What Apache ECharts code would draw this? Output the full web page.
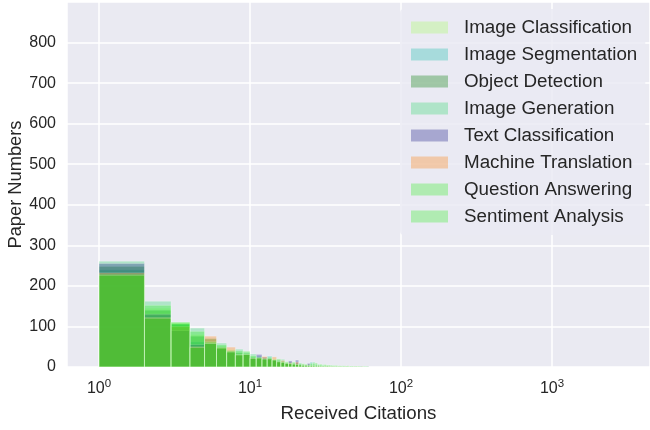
<!DOCTYPE html>
<html><head><meta charset="utf-8">
<script src="https://cdn.jsdelivr.net/npm/echarts@6/dist/echarts.min.js"></script>
<style>html,body{margin:0;padding:0;background:#fff}#chart{width:650px;height:430px}</style>
</head><body><div id="chart"></div>
<script>
// Histogram: bin k covers citations [k, k+1)
const firstBin = 1;
const seriesNames = ['Image Classification','Image Segmentation','Object Detection','Image Generation','Text Classification','Machine Translation','Question Answering','Sentiment Analysis'];
const seriesColors = ['rgba(161,254,89,0.3)','rgba(14,187,169,0.3)','rgba(0,120,0,0.32)','rgba(41,214,102,0.3)','rgba(14,14,129,0.3)','rgba(254,121,0,0.3)','rgba(44,240,25,0.3)','rgba(44,240,30,0.3)'];
const imageClassification = [236,145,107,80,66,51,43,33,32,25, 23,21,22,21,14,12,11,9,8,8, 6,5,4,4,3,5,3,3,2,2, 3,2,2,1,2,1,1,1,1,1, 1,0,1,1,0,1,0,1,0,0, 1,0,0,1,0,0,0,1,0,0];
const imageSegmentation   = [240,125,105,62,59,49,38,31,31,23, 27,19,27,17,13,12,9,8,7,6, 6,5,4,3,12,3,3,2,3,2, 2,2,1,2,1,1,2,1,1,1, 1,1,0,0,1,0,1,0,0,1, 0,0,1,0,0,0,1,0,0,0];
const objectDetection     = [248,140,106,76,70,50,41,35,33,24, 25,22,21,19,15,14,10,12,8,9, 7,6,5,7,4,4,4,4,3,3, 2,3,2,2,2,2,1,2,1,1, 1,2,1,1,1,0,1,1,0,1, 0,1,0,0,1,0,0,0,1,0];
const imageGeneration     = [261,162,106,96,60,59,39,44,36,32, 22,20,25,18,17,19,10,8,10,7, 10,5,7,4,6,12,6,7,5,6, 4,5,3,5,3,4,2,3,2,3, 2,3,2,1,2,2,1,2,1,1, 2,1,1,1,0,1,1,0,1,0];
const textClassification  = [255,130,90,55,58,46,37,30,31,22, 31,24,21,17,13,11,9,15,7,17, 6,4,4,9,3,3,3,2,2,2, 2,1,2,1,1,1,1,1,1,0, 1,0,1,0,0,1,0,0,1,0, 0,0,0,1,0,0,0,0,0,1];
const machineTranslation  = [232,122,100,50,76,48,49,30,31,22, 22,26,20,25,13,16,9,10,7,12, 5,4,4,3,3,3,2,3,2,2, 2,2,1,2,1,1,1,1,1,1, 0,1,1,0,1,0,0,1,0,0, 1,0,0,0,1,0,0,0,0,0];
const questionAnswering   = [229,152,109,88,62,55,40,40,39,28, 24,21,23,18,20,13,13,9,12,7, 8,8,6,5,9,9,10,5,7,4, 6,4,5,3,4,3,4,2,3,2, 3,2,2,3,1,2,2,1,1,2, 1,1,1,0,1,1,0,1,0,1];
const sentimentAnalysis   = [226,120,111,48,58,47,37,30,31,21, 22,19,20,17,13,11,9,8,7,6, 5,4,3,3,3,3,2,2,2,2, 1,2,1,1,1,1,1,1,1,1, 1,1,0,1,0,1,1,0,1,0, 0,1,0,0,0,1,0,0,0,0];
const allCounts = [imageClassification,imageSegmentation,objectDetection,imageGeneration,textClassification,machineTranslation,questionAnswering,sentimentAnalysis];
const yTicks = [0,100,200,300,400,500,600,700,800];

const font = '"Liberation Sans", Arial, sans-serif';
const textColor = '#262626';

const chart = echarts.init(document.getElementById('chart'), null, {renderer: 'canvas'});

function makeRender(color) {
  return function (params, api) {
    const x0 = api.value(0), x1 = api.value(1), v = api.value(2);
    if (!v) return null;
    const p0 = api.coord([x0, v]);
    const p1 = api.coord([x1, 0]);
    return {
      type: 'rect',
      shape: {x: p0[0], y: p0[1], width: p1[0] - p0[0], height: p1[1] - p0[1]},
      style: {fill: color, stroke: 'rgba(255,255,255,0.35)', lineWidth: 0.7}
    };
  };
}

const series = seriesNames.map((name, i) => ({
  type: 'custom',
  name: name,
  renderItem: makeRender(seriesColors[i]),
  itemStyle: {color: seriesColors[i]},
  encode: {x: [0, 1], y: 2},
  data: allCounts[i].map((c, k) => [firstBin + k, firstBin + k + 1, c]),
  z: 2 + i
}));

chart.setOption({
  animation: false,
  grid: {left: 67, right: 0, top: 2, bottom: 63, show: true, backgroundColor: '#EAEAF2', borderWidth: 0,
         containLabel: false, outerBoundsMode: 'none'},
  xAxis: {
    type: 'log', logBase: 10, min: 0.614, max: 4457,
    axisLine: {show: false}, axisTick: {show: false},
    splitLine: {show: true, lineStyle: {color: '#ffffff', width: 1.5}},
    axisLabel: {
      margin: 11, showMinLabel: false, showMaxLabel: false,
      formatter: function (v) {
        const e = Math.log10(v); const r = Math.round(e);
        if (Math.abs(e - r) > 1e-6) return '';
        return '{b|10}{s|' + r + '}';
      },
      rich: {
        b: {fontSize: 16, fontFamily: font, color: textColor},
        s: {fontSize: 11.5, fontFamily: font, color: textColor, padding: [0, 0, 9, 0]}
      }
    },
    name: 'Received Citations', nameLocation: 'middle', nameGap: 37, nameMoveOverlap: false,
    nameTextStyle: {fontSize: 18.7, fontFamily: font, color: textColor}
  },
  yAxis: {
    type: 'value', min: 0, max: 900, interval: 100,
    axisLine: {show: false}, axisTick: {show: false},
    splitLine: {show: true, lineStyle: {color: '#ffffff', width: 1.5}},
    axisLabel: {margin: 11, showMaxLabel: false, fontSize: 16, fontFamily: font, color: textColor,
      formatter: function (v) { return yTicks.indexOf(v) >= 0 ? String(v) : ''; }},
    name: 'Paper Numbers', nameLocation: 'middle', nameGap: 42, nameMoveOverlap: false,
    nameTextStyle: {fontSize: 18.3, fontFamily: font, color: textColor}
  },
  legend: {
    orient: 'vertical', left: 400, top: 9,
    padding: [8, 8, 8, 11],
    itemWidth: 37, itemHeight: 12, itemGap: 6, icon: 'rect',
    backgroundColor: 'rgba(234,234,242,0.8)', borderWidth: 0, borderRadius: 4,
    textStyle: {fontSize: 18.8, fontFamily: font, color: textColor, lineHeight: 21, padding: [0, 0, 0, 11]},
    data: seriesNames.map((n, i) => ({name: n, itemStyle: {color: seriesColors[i]}}))
  },
  series: series
});
</script></body></html>
